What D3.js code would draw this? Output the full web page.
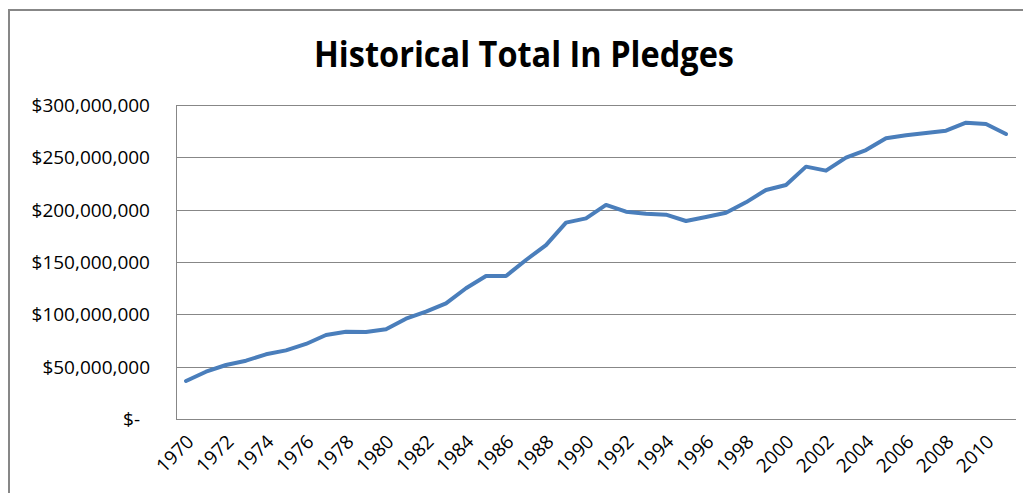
<!DOCTYPE html>
<html>
<head>
<meta charset="utf-8">
<script src="https://cdn.jsdelivr.net/npm/d3@7"></script>
<style>
  html, body { margin: 0; padding: 0; background: #fff; }
  svg { display: block; }
</style>
</head>
<body>
<svg id="chart" width="1023" height="493"></svg>
<script>
const years = d3.range(1970, 2012);
const pledges = [
  36.3, 45.2, 51.6, 55.7, 61.8, 65.6, 71.7, 80.3, 83.4, 83.1,
  85.7, 95.8, 102.5, 110.5, 124.9, 136.6, 136.6, 151.9, 166.2, 187.6,
  191.7, 204.5, 198.1, 196.2, 195.2, 189.2, 193.0, 197.1, 207.0, 218.8,
  223.6, 241.1, 237.3, 249.7, 257.0, 268.2, 271.0, 273.2, 275.5, 283.1,
  281.8, 272.3
].map(v => v * 1e6);
const yTicks = [0, 50e6, 100e6, 150e6, 200e6, 250e6, 300e6];
const xTickLabels = years.filter(y => (y - 1970) % 2 === 0);
const title = "Historical Total In Pledges";

const svg = d3.select("#chart");
const m = { left: 176, right: 1016, top: 105, bottom: 419 };

// outer chart frame
svg.append("rect")
  .attr("x", 9).attr("y", 10).attr("width", 1200).attr("height", 700)
  .attr("fill", "#fff").attr("stroke", "#878787").attr("stroke-width", 2);

const x = d3.scaleBand().domain(years).range([m.left, m.right]).padding(0);
const y = d3.scaleLinear().domain([0, 300e6]).range([m.bottom, m.top]);

// gridlines
svg.append("g")
  .selectAll("line").data(yTicks).join("line")
  .attr("x1", m.left).attr("x2", m.right)
  .attr("y1", d => Math.round(y(d)) + 0.5).attr("y2", d => Math.round(y(d)) + 0.5)
  .attr("stroke", "#878787").attr("stroke-width", 1);

// left plot border
svg.append("line")
  .attr("x1", m.left + 0.5).attr("x2", m.left + 0.5)
  .attr("y1", m.top).attr("y2", m.bottom + 1)
  .attr("stroke", "#878787").attr("stroke-width", 1);

// y axis labels
const fmt = d => d === 0 ? "$-" : "$" + d3.format(",")(d);
const yAxis = d3.axisLeft(y).tickValues(yTicks).tickFormat(fmt).tickSize(0).tickPadding(0);
const yg = svg.append("g").attr("transform", `translate(150,0)`).call(yAxis);
yg.select(".domain").remove();
yg.selectAll("text")
  .attr("font-family", "'Open Sans', sans-serif")
  .attr("font-size", 19)
  .attr("fill", "#000")
  .attr("dy", "0.35em")
  .attr("dx", d => d === 0 ? -10 : 0);

// x axis labels
const xAxis = d3.axisBottom(x).tickValues(xTickLabels).tickSize(0).tickPadding(0);
const xg = svg.append("g").attr("transform", `translate(0,${m.bottom})`).call(xAxis);
xg.select(".domain").remove();
xg.selectAll("text")
  .attr("font-family", "'Open Sans', sans-serif")
  .attr("font-size", 19)
  .attr("fill", "#000")
  .attr("text-anchor", "end")
  .attr("dy", null)
  .attr("y", 0)
  .attr("transform", "translate(9,24) rotate(-45)");

// line
const line = d3.line()
  .x((d, i) => x(years[i]) + x.bandwidth() / 2)
  .y(d => y(d));
svg.append("path")
  .datum(pledges)
  .attr("d", line)
  .attr("fill", "none")
  .attr("stroke", "#4a7ebb")
  .attr("stroke-width", 4)
  .attr("stroke-linejoin", "round")
  .attr("stroke-linecap", "round");

// title
svg.append("text")
  .attr("x", 524).attr("y", 67)
  .attr("text-anchor", "middle")
  .attr("font-family", "'Open Sans', sans-serif")
  .attr("font-weight", "bold")
  .attr("font-size", 35)
  .attr("textLength", 420)
  .attr("lengthAdjust", "spacingAndGlyphs")
  .attr("fill", "#000")
  .text(title);
</script>
</body>
</html>
